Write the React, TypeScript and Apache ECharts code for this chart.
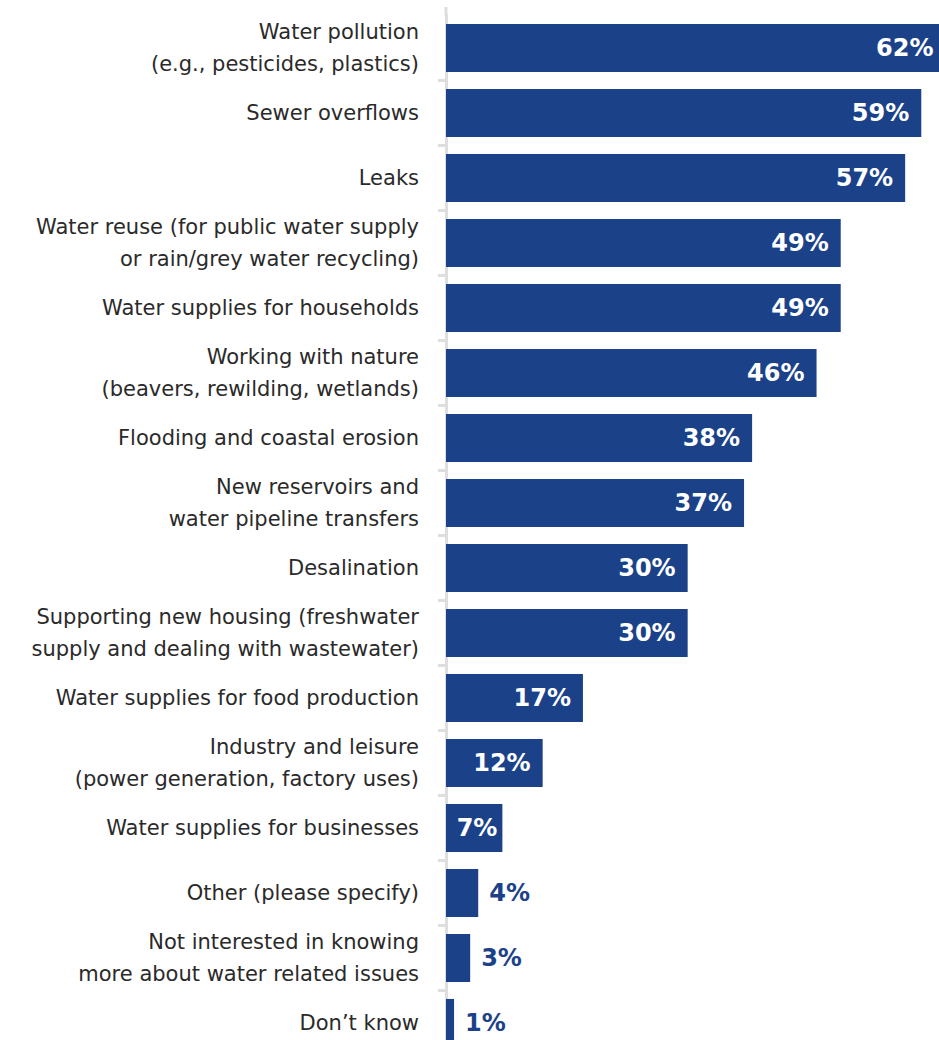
import React, { useEffect, useRef } from "react";
import * as echarts from "echarts";

const categories = [
  "Water pollution\n(e.g., pesticides, plastics)",
  "Sewer overflows",
  "Leaks",
  "Water reuse (for public water supply\nor rain/grey water recycling)",
  "Water supplies for households",
  "Working with nature\n(beavers, rewilding, wetlands)",
  "Flooding and coastal erosion",
  "New reservoirs and\nwater pipeline transfers",
  "Desalination",
  "Supporting new housing (freshwater\nsupply and dealing with wastewater)",
  "Water supplies for food production",
  "Industry and leisure\n(power generation, factory uses)",
  "Water supplies for businesses",
  "Other (please specify)",
  "Not interested in knowing\nmore about water related issues",
  "Don\u2019t know",
];

const values = [62, 59, 57, 49, 49, 46, 38, 37, 30, 30, 17, 12, 7, 4, 3, 1];

const BAR_COLOR = "#1b4289";
const AXIS_COLOR = "#dedede";
const FONT = "DejaVu Sans";

export default function App() {
  const ref = useRef<HTMLDivElement>(null);
  useEffect(() => {
    if (!ref.current) return;
    const chart = echarts.init(ref.current, undefined, { renderer: "svg" });
    const data = values.map((v) => {
      const inside = v >= 7;
      return {
        value: v,
        label: inside
          ? { position: "insideRight", distance: v < 10 ? 5 : 12, color: "#ffffff" }
          : { position: "right", distance: 11, color: BAR_COLOR },
      };
    });
    chart.setOption({
      animation: false,
      grid: { left: 446, right: 0, top: 15.5, height: 1040, containLabel: false },
      xAxis: { type: "value", min: 0, max: 61.2, show: false },
      yAxis: {
        type: "category",
        data: categories,
        inverse: true,
        axisLine: { show: true, lineStyle: { color: AXIS_COLOR, width: 3 } },
        axisTick: {
          show: true,
          length: 8,
          interval: (i: number) => i !== 0,
          lineStyle: { color: AXIS_COLOR, width: 3 },
        },
        axisLabel: {
          margin: 27,
          fontSize: 21,
          lineHeight: 32,
          color: "#2a2a2a",
          fontFamily: FONT,
          align: "right",
        },
        splitLine: { show: false },
      },
      graphic: [
        {
          type: "line",
          shape: { x1: 446, y1: 7, x2: 446, y2: 16 },
          style: { stroke: AXIS_COLOR, lineWidth: 3 },
          silent: true,
        },
      ],
      series: [
        {
          type: "bar",
          data,
          barCategoryGap: "26%",
          itemStyle: { color: BAR_COLOR },
          clip: false,
          label: {
            show: true,
            formatter: "{c}%",
            fontSize: 24,
            fontWeight: "bold",
            fontFamily: FONT,
          },
        },
      ],
    });
    return () => chart.dispose();
  }, []);
  return (
    <div
      ref={ref}
      style={{ position: "fixed", left: 0, top: 0, width: 939, height: 1060, background: "#ffffff" }}
    />
  );
}
